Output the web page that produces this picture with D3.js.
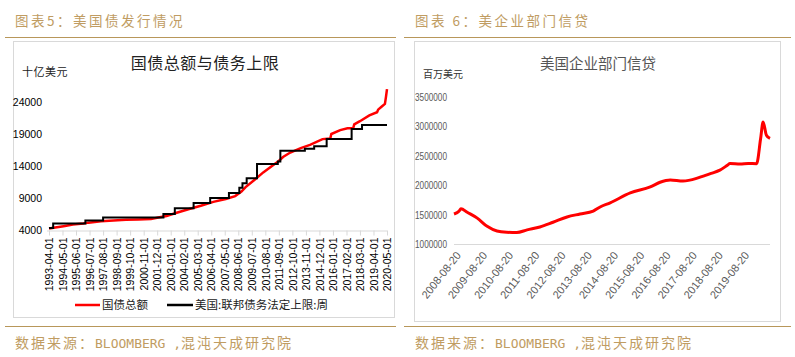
<!DOCTYPE html>
<html><head><meta charset="utf-8">
<script src="https://cdn.jsdelivr.net/npm/d3@7"></script>
<style>
html,body{margin:0;padding:0;background:#fff;}
svg{display:block;}
</style></head>
<body>
<svg id="chart" width="795" height="357"></svg>
<script>
// ---------- Left chart data (十亿美元) ----------
const debtDates = ["1993-04-01","1993-10-01","1994-06-01","1995-03-01","1996-01-01","1996-06-01","1997-06-01","1998-06-01","1999-06-01","2000-06-01","2001-06-01","2002-01-01","2002-09-01","2003-06-01","2004-06-01","2005-06-01","2006-06-01","2007-06-01","2008-03-01","2008-09-01","2009-01-01","2009-10-01","2010-06-01","2011-05-01","2011-08-15","2012-01-01","2012-08-01","2013-06-01","2014-03-01","2015-03-01","2015-10-15","2015-11-15","2016-08-01","2017-03-01","2017-08-15","2017-09-15","2018-03-01","2018-12-01","2019-07-15","2019-08-15","2019-12-01","2020-03-01","2020-04-01","2020-05-01"];
const debtValues = [4230,4400,4600,4850,5000,5150,5350,5500,5600,5650,5700,5950,6200,6650,7250,7800,8400,8850,9300,10000,10700,11900,13000,14300,14700,15400,16100,16800,17300,18200,18300,19000,19600,19900,19900,20500,21000,21900,22400,22800,23300,23700,24800,26000];
const limitDates = ["1993-04-01","1993-08-01","1996-03-01","1997-08-01","2002-06-01","2003-05-01","2004-11-01","2006-03-01","2007-09-01","2008-07-01","2008-10-01","2009-02-01","2009-12-01","2011-08-01","2011-10-15","2013-10-01","2014-07-01","2015-07-01","2017-07-01","2018-05-01","2020-05-01"];
const limitValues = [4300,5000,5500,5950,6500,7400,8200,9000,9800,10600,11300,12100,14300,14700,16400,16700,17100,18200,19800,20400,20400];
const leftTickLabels = ["1993-04-01","1994-05-01","1995-06-01","1996-07-01","1997-08-01","1998-09-01","1999-10-01","2000-11-01","2001-12-01","2003-01-01","2004-02-01","2005-03-01","2006-04-01","2007-05-01","2008-06-01","2009-07-01","2010-08-01","2011-09-01","2012-10-01","2013-11-01","2014-12-01","2016-01-01","2017-02-01","2018-03-01","2019-04-01","2020-05-01"];
const leftYTicks = [4000,9000,14000,19000,24000];

// ---------- Right chart data (百万美元) ----------
const creditDates = ["2008-07-10","2008-08-15","2008-09-20","2008-10-15","2009-01-10","2009-05-30","2009-10-15","2010-03-01","2010-07-15","2010-12-01","2011-04-25","2011-10-20","2012-04-20","2012-11-01","2013-05-01","2013-11-01","2014-02-05","2014-06-25","2015-04-01","2016-01-05","2016-05-20","2016-10-10","2017-04-05","2017-10-20","2018-01-01","2018-05-01","2018-09-01","2018-12-15","2019-01-20","2019-06-10","2019-10-01","2020-01-25","2020-03-20","2020-04-25","2020-06-10","2020-07-30"];
const creditValues = [1510000,1530000,1560000,1600000,1540000,1440000,1300000,1220000,1200000,1195000,1240000,1290000,1370000,1460000,1510000,1560000,1630000,1700000,1870000,1970000,2050000,2090000,2070000,2120000,2150000,2200000,2256000,2340000,2370000,2360000,2370000,2365000,2780000,3076000,2850000,2795000];
const rightTickLabels = ["2008-08-20","2009-08-20","2010-08-20","2011-08-20","2012-08-20","2013-08-20","2014-08-20","2015-08-20","2016-08-20","2017-08-20","2018-08-20","2019-08-20"];
const rightYTicks = [1000000,1500000,2000000,2500000,3000000,3500000];

const parse = d3.timeParse("%Y-%m-%d");
const svg = d3.select("#chart");
const gold = "#c09c62";
const cjk = "'Noto Sans CJK SC', sans-serif";

// ---------- Page frame ----------
svg.append("text").attr("x",15).attr("y",26).attr("fill",gold)
  .style("font-family",cjk).style("font-size","13.5px").style("letter-spacing","2.5px")
  .text("图表5：美国债发行情况");
svg.append("text").attr("x",415).attr("y",26).attr("fill",gold)
  .style("font-family",cjk).style("font-size","13.5px").style("letter-spacing","2.5px")
  .text("图表 6：美企业部门信贷");
[[5,396],[404,791]].forEach(([a,b])=>{
  svg.append("line").attr("x1",a).attr("x2",b).attr("y1",37.5).attr("y2",37.5).attr("stroke","#b8975a").attr("stroke-width",1.2);
  svg.append("line").attr("x1",a).attr("x2",b).attr("y1",326.5).attr("y2",326.5).attr("stroke","#b8975a").attr("stroke-width",1.2);
});
function footer(x){
  const t = svg.append("text").attr("x",x).attr("y",348).attr("fill",gold)
    .style("font-family",cjk).style("font-size","14px").style("letter-spacing","2px");
  t.append("tspan").text("数据来源：");
  t.append("tspan").style("font-family","'DejaVu Sans Mono', monospace").style("font-size","13px").style("letter-spacing","0px").text("BLOOMBERG ,");
  t.append("tspan").text("混沌天成研究院");
}
footer(15); footer(415);

// boxes
svg.append("rect").attr("x",13.5).attr("y",41.5).attr("width",381).attr("height",276).attr("fill","none").attr("stroke","#d9d9d9");
svg.append("rect").attr("x",414.5).attr("y",41.5).attr("width",366).attr("height",280).attr("fill","none").attr("stroke","#d9d9d9");

// ---------- Left chart ----------
const xL = d3.scaleTime().domain([parse("1993-04-01"), parse("2020-05-01")]).range([49,387]);
const yL = d3.scaleLinear().domain([4000,29000]).range([230,70]);

svg.append("text").attr("x",205).attr("y",69).attr("text-anchor","middle").attr("fill","#222")
  .style("font-family",cjk).style("font-size","16px").style("letter-spacing","0.5px").text("国债总额与债务上限");
svg.append("text").attr("x",22).attr("y",76).attr("fill","#222")
  .style("font-family",cjk).style("font-size","11px").style("letter-spacing","0.5px").text("十亿美元");

const gyL = svg.append("g").attr("transform","translate(44,0)")
  .call(d3.axisLeft(yL).tickValues(leftYTicks).tickSize(0).tickFormat(d3.format("d")));
gyL.select(".domain").remove();
gyL.selectAll("text").attr("x",-2).attr("fill","#000").style("font-family","'Liberation Sans', Arial, sans-serif").style("font-size","10.5px");

const gxL = svg.append("g").attr("transform","translate(0,230.5)")
  .call(d3.axisBottom(xL).tickValues(leftTickLabels.map(parse)).tickSize(5).tickSizeOuter(0)
    .tickFormat((d,i)=>leftTickLabels[i]));
gxL.select(".domain").attr("stroke","#d9d9d9").attr("d","M47,0.5H387");
gxL.selectAll(".tick line").attr("stroke","#d9d9d9");
gxL.selectAll("text").attr("fill","#000").style("font-family","'Liberation Sans', Arial, sans-serif").style("font-size","10.5px")
  .attr("text-anchor","end").attr("transform","rotate(-90)").attr("x",-7).attr("y",0).attr("dy","0.35em");

const lineL = d3.line().x(d=>xL(d[0])).y(d=>yL(d[1]));
const debtData = debtDates.map((d,i)=>[parse(d),debtValues[i]]);
const limitData = limitDates.map((d,i)=>[parse(d),limitValues[i]]);
svg.append("path").datum(debtData).attr("d",lineL.curve(d3.curveLinear)).attr("fill","none").attr("stroke","#ff0000").attr("stroke-width",2.5);
svg.append("path").datum(limitData).attr("d",d3.line().x(d=>xL(d[0])).y(d=>yL(d[1])).curve(d3.curveStepAfter)).attr("fill","none").attr("stroke","#000").attr("stroke-width",2);

// legend
const legL = svg.append("g").style("font-family",cjk).style("font-size","11.5px");
legL.append("line").attr("x1",75).attr("x2",100).attr("y1",305).attr("y2",305).attr("stroke","#ff0000").attr("stroke-width",2.5);
legL.append("text").attr("x",102).attr("y",309).attr("fill","#222").text("国债总额");
legL.append("line").attr("x1",167).attr("x2",193).attr("y1",305).attr("y2",305).attr("stroke","#000").attr("stroke-width",2.5);
legL.append("text").attr("x",195).attr("y",309).attr("fill","#222").text("美国:联邦债务法定上限:周");

// ---------- Right chart ----------
const xR = d3.scaleTime().domain([parse("2008-07-10"), parse("2020-07-30")]).range([454,770]);
const yR = d3.scaleLinear().domain([1000000,3500000]).range([244,97]);

svg.append("text").attr("x",598).attr("y",69).attr("text-anchor","middle").attr("fill","#555")
  .style("font-family",cjk).style("font-size","14.5px").text("美国企业部门信贷");
svg.append("text").attr("x",423).attr("y",78).attr("fill","#333")
  .style("font-family",cjk).style("font-size","10px").text("百万美元");

const gyR = svg.append("g").attr("transform","translate(449,0)")
  .call(d3.axisLeft(yR).tickValues(rightYTicks).tickSize(0).tickFormat(d3.format("d")));
gyR.select(".domain").remove();
gyR.selectAll("text").attr("x",-2).attr("fill","#595959")
  .style("font-family","'Liberation Sans', sans-serif").style("font-size","11px")
  .attr("textLength",32).attr("lengthAdjust","spacingAndGlyphs");

svg.append("line").attr("x1",454).attr("x2",770).attr("y1",yR(1000000)+0.5).attr("y2",yR(1000000)+0.5).attr("stroke","#d9d9d9");

const gxR = svg.append("g").attr("transform","translate(0,244)")
  .call(d3.axisBottom(xR).tickValues(rightTickLabels.map(parse)).tickSize(0).tickFormat((d,i)=>rightTickLabels[i]));
gxR.select(".domain").remove();
gxR.selectAll("text").attr("fill","#595959")
  .style("font-family","'Liberation Sans', sans-serif").style("font-size","11px")
  .attr("text-anchor","end").attr("x",0).attr("y",0).attr("dy","0.35em")
  .attr("textLength",56).attr("lengthAdjust","spacingAndGlyphs")
  .attr("transform","translate(1,9) rotate(-52)");

const creditData = creditDates.map((d,i)=>[parse(d),creditValues[i]]);
svg.append("path").datum(creditData)
  .attr("d",d3.line().x(d=>xR(d[0])).y(d=>yR(d[1])).curve(d3.curveMonotoneX))
  .attr("fill","none").attr("stroke","#ff0000").attr("stroke-width",3).attr("stroke-linejoin","round");
</script>
</body></html>
